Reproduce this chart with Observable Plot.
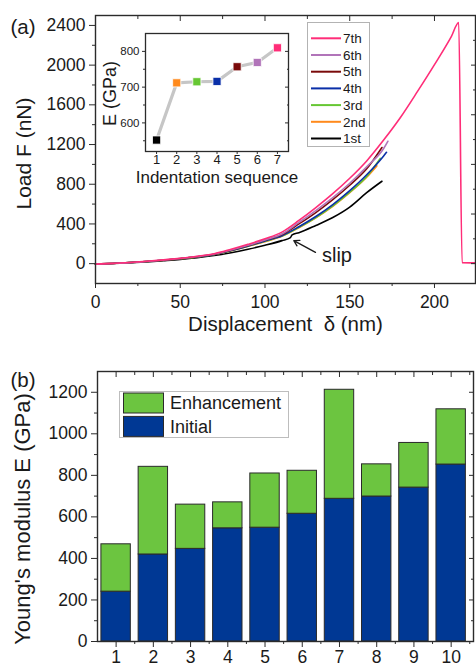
<!DOCTYPE html>
<html><head><meta charset="utf-8">
<script src="https://cdn.jsdelivr.net/npm/d3@7"></script>
<script src="https://cdn.jsdelivr.net/npm/@observablehq/plot@0.6"></script>
<style>
html,body{margin:0;padding:0;background:#fff;}
#wrap{position:relative;width:476px;height:663px;overflow:hidden;background:#fff;font-family:'Liberation Sans',Arial,sans-serif;}
#wrap > *{position:absolute;}
</style></head><body><div id="wrap"></div>
<script>
// ---------- Panel (a): load vs displacement ----------
const seriesNames  = ["1st","2nd","3rd","4th","5th","6th","7th"];
const seriesColors = ["#000000","#ff8a1c","#66c733","#0a2fa8","#7a0a0a","#b174b9","#ff2d78"];

const disp1 = [0,10,20,30,40,50,60,70,80,90,100,110,115,116,120,130,140,150,160,169];
const load1 = [-5,2,9,18,30,43,60,82,110,145,185,232,262,290,312,385,465,570,715,830];
const disp2 = [0,10,20,30,40,50,60,70,80,90,100,110,120,130,140,150,160,166];
const load2 = [-5,2,10,21,34,50,68,92,130,175,222,275,362,462,578,715,870,985];
const disp3 = [0,10,20,30,40,50,60,70,80,90,100,110,120,130,140,150,160,168];
const load3 = [-5,2,10,21,34,50,68,92,131,176,225,278,365,465,583,720,878,1060];
const disp4 = [0,10,20,30,40,50,60,70,80,90,100,110,120,130,140,150,160,170,171.7];
const load4 = [-5,2,10,21,34,50,69,93,132,178,228,282,372,475,595,735,895,1085,1122];
const disp5 = [0,10,20,30,40,50,60,70,80,90,100,110,120,130,140,150,160,169];
const load5 = [-5,2,10,22,35,51,70,95,135,182,235,293,400,515,645,790,955,1170];
const disp6 = [0,10,20,30,40,50,60,70,80,90,100,110,120,130,140,150,160,170,172.5];
const load6 = [-5,2,10,22,36,52,72,97,138,185,238,298,415,535,665,810,975,1160,1233];
const disp7 = [0,10,20,30,40,50,60,70,80,90,100,110,120,130,140,150,160,170,180,190,200,210,214.3,216.3,224];
const load7 = [-5,3,12,24,38,55,75,100,145,195,250,318,435,565,705,860,1035,1245,1475,1735,2005,2290,2430,10,8];

const dispArr = [disp1,disp2,disp3,disp4,disp5,disp6,disp7];
const loadArr = [load1,load2,load3,load4,load5,load6,load7];

const xTicksA      = [0,50,100,150,200];
const xMinorA      = [25,75,125,175];
const yTicksA      = [0,400,800,1200,1600,2000,2400];
const yMinorA      = [200,600,1000,1400,1800,2200];
const yRightMajorA = [0,500,1000,1500,2000];
const yRightMinorA = [250,750,1250,1750,2250];

const slipNote = [{x1: 129.8, y1: 114, x2: 117, y2: 232, tx: 133.6, ty: 78, label: "slip"}];

// inset
const indentSeq = [1,2,3,4,5,6,7];
const indentE   = [552,712,715,716,757,769,810];
const insetYTicks = [600,700,800];
const insetYMinor = [550,650,750];

// ---------- Panel (b): Young's modulus ----------
const samples  = [1,2,3,4,5,6,7,8,9,10];
const initialE = [240,419,446,545,548,615,687,698,741,852];
const totalE   = [468,841,659,670,809,822,1212,853,956,1118];
const partNames  = ["Enhancement","Initial"];
const partColors = ["#6cc540","#003894"];
const yTicksB  = [0,200,400,600,800,1000,1200];
const yMinorB  = [100,300,500,700,900,1100];
const xMinorB  = [1.5,2.5,3.5,4.5,5.5,6.5,7.5,8.5,9.5,10.5];

const FONT = "'Liberation Sans', Arial, sans-serif";
const ink = "#2b2b2b";
const wrap = document.getElementById("wrap");
const blank = () => "";
const plain = d => String(d);

// ----- main plot (a)
const curveRows = seriesNames.flatMap((name, i) =>
  dispArr[i].map((d, j) => ({series: name, d, F: loadArr[i][j]})));

const plotA = Plot.plot({
  width: 476, height: 340,
  marginLeft: 95, marginRight: 1, marginTop: 15, marginBottom: 57,
  style: {fontFamily: FONT, background: "transparent", overflow: "visible", color: "#1a1a1a"},
  x: {domain: [0, 224.2]},
  y: {domain: [-200, 2500]},
  color: {domain: seriesNames, range: seriesColors},
  marks: [
    Plot.line(curveRows, {x: "d", y: "F", z: "series", stroke: "series", strokeWidth: 1.6, strokeLinejoin: "round", curve: "monotone-x"}),
    Plot.arrow(slipNote, {x1: "x1", y1: "y1", x2: "x2", y2: "y2", stroke: "#1a1a1a", strokeWidth: 1.3, headLength: 7}),
    Plot.text(slipNote, {x: "tx", y: "ty", text: "label", textAnchor: "start", lineAnchor: "middle", fontSize: 20, fill: "#1a1a1a"}),
    Plot.axisX(xTicksA, {tickSize: 5, tickPadding: 7, fontSize: 17.5, tickFormat: plain, stroke: ink, label: null}),
    Plot.axisX(xMinorA, {tickSize: 3, tickFormat: blank, stroke: ink, label: null}),
    Plot.axisX(xTicksA, {anchor: "top", tickSize: -5, tickFormat: blank, stroke: ink, label: null}),
    Plot.axisX(xMinorA, {anchor: "top", tickSize: -3, tickFormat: blank, stroke: ink, label: null}),
    Plot.axisY(yTicksA, {tickSize: 6, tickPadding: 4, fontSize: 17.5, tickFormat: plain, stroke: ink, label: null}),
    Plot.axisY(yMinorA, {tickSize: 3, tickFormat: blank, stroke: ink, label: null}),
    Plot.axisY(yRightMajorA, {anchor: "right", tickSize: -5, tickFormat: blank, stroke: ink, label: null}),
    Plot.axisY(yRightMinorA, {anchor: "right", tickSize: -3, tickFormat: blank, stroke: ink, label: null}),
    Plot.frame({stroke: ink, strokeWidth: 1.4}),
    Plot.text(["Displacement  δ (nm)"], {text: d => d, frameAnchor: "bottom", textAnchor: "middle", lineAnchor: "middle", dy: 40.6, fontSize: 20.5}),
    Plot.text(["Load F (nN)"], {text: d => d, frameAnchor: "left", textAnchor: "middle", lineAnchor: "middle", rotate: -90, dx: -71.5, dy: 4, fontSize: 21}),
    Plot.text(["(a)"], {text: d => d, frameAnchor: "top-left", textAnchor: "middle", lineAnchor: "middle", dx: -72.5, dy: 11.5, fontSize: 20.5})
  ]
});
plotA.style.left = "0px"; plotA.style.top = "0px";
wrap.appendChild(plotA);

// ----- inset
const indentRows = indentSeq.map((n, i) => ({n, E: indentE[i], series: seriesNames[i]}));
const inset = Plot.plot({
  width: 195, height: 160,
  marginLeft: 45, marginRight: 7, marginTop: 8, marginBottom: 34,
  style: {fontFamily: FONT, background: "white", overflow: "visible", color: "#1a1a1a"},
  x: {domain: [0.45, 7.55]},
  y: {domain: [520, 850]},
  color: {domain: seriesNames, range: seriesColors},
  marks: [
    Plot.line(indentRows, {x: "n", y: "E", stroke: "#c6c6c6", strokeWidth: 3.2}),
    Plot.dot(indentRows, {x: "n", y: "E", symbol: "square", r: 4.6, fill: "series", stroke: "white", strokeWidth: 0.8}),
    Plot.axisX(indentSeq, {tickSize: 3, tickPadding: 0, fontSize: 13, tickFormat: plain, stroke: ink, label: null}),
    Plot.axisY(insetYTicks, {tickSize: 3, tickPadding: 3, fontSize: 11.5, tickFormat: plain, stroke: ink, label: null}),
    Plot.axisY(insetYMinor, {tickSize: 2, tickFormat: blank, stroke: ink, label: null}),
    Plot.axisY(insetYTicks, {anchor: "right", tickSize: -4, tickFormat: blank, stroke: ink, label: null}),
    Plot.axisY(insetYMinor, {anchor: "right", tickSize: -2, tickFormat: blank, stroke: ink, label: null}),
    Plot.frame({stroke: ink, strokeWidth: 1.3}),
    Plot.text(["Indentation sequence"], {text: d => d, frameAnchor: "bottom", textAnchor: "middle", lineAnchor: "middle", dy: 26, fontSize: 17}),
    Plot.text(["E (GPa)"], {text: d => d, frameAnchor: "left", textAnchor: "middle", lineAnchor: "middle", rotate: -90, dx: -35, dy: 1, fontSize: 18})
  ]
});
inset.style.left = "100px"; inset.style.top = "25px";
wrap.appendChild(inset);

// ----- legend (a)
const legA = d3.create("svg").attr("width", 63).attr("height", 125)
  .style("left", "307px").style("top", "22px").style("font-family", FONT);
legA.append("rect").attr("x", 0.5).attr("y", 0.5).attr("width", 62).attr("height", 124)
  .attr("fill", "white").attr("stroke", "#b3b3b3");
seriesNames.map((n, i) => i).reverse().forEach((i, k) => {
  const y = 16.3 + k * 16.7;
  legA.append("line").attr("x1", 4).attr("x2", 34).attr("y1", y).attr("y2", y)
    .attr("stroke", seriesColors[i]).attr("stroke-width", 2);
  legA.append("text").attr("x", 36).attr("y", y).attr("dy", "0.35em")
    .attr("font-size", 13.5).attr("fill", "#1a1a1a").text(seriesNames[i]);
});
wrap.appendChild(legA.node());

// ----- main plot (b)
const barRows = samples.flatMap((n, i) => [
  {n, part: "Initial", lo: 0, hi: initialE[i]},
  {n, part: "Enhancement", lo: initialE[i], hi: totalE[i]}
]);
const plotB = Plot.plot({
  width: 476, height: 323,
  marginLeft: 97, marginRight: 3, marginTop: 31, marginBottom: 22,
  style: {fontFamily: FONT, background: "transparent", overflow: "visible", color: "#1a1a1a"},
  x: {domain: [0.5, 10.6]},
  y: {domain: [0, 1300]},
  color: {domain: partNames, range: partColors},
  marks: [
    Plot.rect(barRows, {x1: d => d.n - 0.395, x2: d => d.n + 0.395, y1: "lo", y2: "hi", fill: "part", stroke: "#2a2a2a", strokeWidth: 1}),
    Plot.axisX(samples, {tickSize: 6, tickPadding: 3, fontSize: 17.5, tickFormat: plain, stroke: ink, label: null}),
    Plot.axisX(xMinorB, {tickSize: 3, tickFormat: blank, stroke: ink, label: null}),
    Plot.axisX(samples, {anchor: "top", tickSize: -5, tickFormat: blank, stroke: ink, label: null}),
    Plot.axisX(xMinorB, {anchor: "top", tickSize: -3, tickFormat: blank, stroke: ink, label: null}),
    Plot.axisY(yTicksB, {tickSize: 6, tickPadding: 4, fontSize: 17.5, tickFormat: plain, stroke: ink, label: null}),
    Plot.axisY(yMinorB, {tickSize: 3, tickFormat: blank, stroke: ink, label: null}),
    Plot.axisY(yTicksB, {anchor: "right", tickSize: -5, tickFormat: blank, stroke: ink, label: null}),
    Plot.axisY(yMinorB, {anchor: "right", tickSize: -3, tickFormat: blank, stroke: ink, label: null}),
    Plot.frame({stroke: ink, strokeWidth: 1.4}),
    Plot.text(["Young's modulus E (GPa)"], {text: d => d, frameAnchor: "left", textAnchor: "middle", lineAnchor: "middle", rotate: -90, dx: -74.5, dy: 12.5, fontSize: 22}),
    Plot.text(["(b)"], {text: d => d, frameAnchor: "top-left", textAnchor: "middle", lineAnchor: "middle", dx: -74.5, dy: 9, fontSize: 20.5})
  ]
});
plotB.style.left = "0px"; plotB.style.top = "340px";
wrap.appendChild(plotB);

// ----- legend (b)
const legB = d3.create("svg").attr("width", 170).attr("height", 47)
  .style("left", "119px").style("top", "391px").style("font-family", FONT);
legB.append("rect").attr("x", 0.5).attr("y", 0.5).attr("width", 169).attr("height", 46)
  .attr("fill", "white").attr("stroke", "#bdbdbd");
partNames.forEach((p, i) => {
  const y = 2 + i * 23.4;
  legB.append("rect").attr("x", 4.5).attr("y", y).attr("width", 40).attr("height", 20)
    .attr("fill", partColors[i]).attr("stroke", "#2a2a2a");
  legB.append("text").attr("x", 51).attr("y", y + 10).attr("dy", "0.35em")
    .attr("font-size", 18).attr("fill", "#1a1a1a").text(p);
});
wrap.appendChild(legB.node());
</script></body></html>
